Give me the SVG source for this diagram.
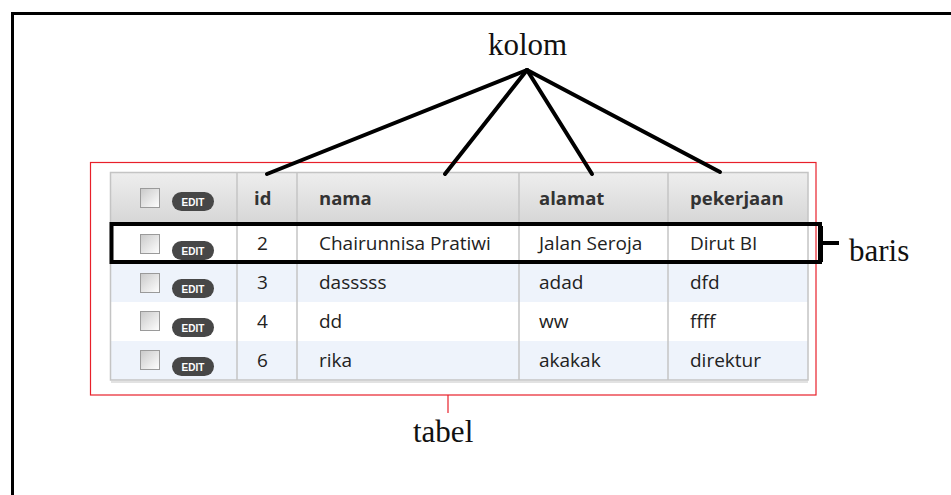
<svg xmlns="http://www.w3.org/2000/svg" width="951" height="495" viewBox="0 0 951 495">
<defs>
<linearGradient id="hdr" x1="0" y1="0" x2="0" y2="1">
<stop offset="0" stop-color="#eeeeee"/>
<stop offset="1" stop-color="#d6d6d6"/>
</linearGradient>
<linearGradient id="chk" x1="0" y1="0" x2="1" y2="1">
<stop offset="0" stop-color="#c9c9c9"/>
<stop offset="1" stop-color="#ffffff"/>
</linearGradient>
<g id="cb"><rect x="0.5" y="0.5" width="19" height="19" fill="url(#chk)" stroke="#9a9a9a"/></g>
<g id="ed"><rect x="0" y="0" width="42" height="19" rx="9.5" fill="#474747"/><text x="21" y="13.5" class="et">EDIT</text></g>
</defs>
<style>
.lab{font-family:"Liberation Serif","Times New Roman",serif;font-size:31px;fill:#111}
.th{font-family:"Open Sans","Noto Sans",sans-serif;font-size:18.5px;font-weight:bold;fill:#333}
.td{font-family:"Open Sans","Noto Sans",sans-serif;font-size:19px;fill:#222}
.et{font-family:"Liberation Sans",Arial,sans-serif;font-size:10px;font-weight:bold;fill:#fff;text-anchor:middle}
.div{stroke:#c4c4c4;stroke-width:1.5}
.conn{stroke:#000;stroke-width:4;fill:none;stroke-linecap:round}
</style>
<rect width="951" height="495" fill="#fff"/>
<path d="M12.5 495 V13.5 H951" fill="none" stroke="#000" stroke-width="3"/>

<g id="tabel-frame">
<rect x="90.5" y="162.5" width="725.5" height="232.5" fill="none" stroke="#e8202a" stroke-width="1.2"/>
<line x1="448" y1="395" x2="448" y2="413" stroke="#e8202a" stroke-width="1.2"/>
</g>

<g id="table">
<rect x="110" y="172" width="698" height="52" fill="url(#hdr)"/>
<rect x="110" y="224" width="698" height="39" fill="#ffffff"/>
<rect x="110" y="263" width="698" height="39" fill="#eef3fb"/>
<rect x="110" y="302" width="698" height="39" fill="#ffffff"/>
<rect x="110" y="341" width="698" height="39" fill="#eef3fb"/>
<line class="div" x1="237" y1="172" x2="237" y2="380"/>
<line class="div" x1="297" y1="172" x2="297" y2="380"/>
<line class="div" x1="519" y1="172" x2="519" y2="380"/>
<line class="div" x1="668" y1="172" x2="668" y2="380"/>
<rect x="110.5" y="172.5" width="697.5" height="207.5" fill="none" stroke="#c4c4c4" stroke-width="1.5"/>
<line x1="111" y1="382" x2="808" y2="382" stroke="#e2e2e2" stroke-width="2"/>

<g id="row-header">
<use href="#cb" x="140" y="188"/><use href="#ed" x="172" y="192"/>
<text class="th" x="254" y="205">id</text>
<text class="th" x="319" y="205">nama</text>
<text class="th" x="539" y="205">alamat</text>
<text class="th" x="690" y="205">pekerjaan</text>
</g>
<g id="row-2">
<use href="#cb" x="140" y="234"/><use href="#ed" x="172" y="241"/>
<text class="td" x="257" y="250">2</text>
<text class="td" x="319" y="250">Chairunnisa Pratiwi</text>
<text class="td" x="539" y="250">Jalan Seroja</text>
<text class="td" x="690" y="250">Dirut BI</text>
</g>
<g id="row-3">
<use href="#cb" x="140" y="273"/><use href="#ed" x="172" y="279"/>
<text class="td" x="257" y="289">3</text>
<text class="td" x="319" y="289">dasssss</text>
<text class="td" x="539" y="289">adad</text>
<text class="td" x="690" y="289">dfd</text>
</g>
<g id="row-4">
<use href="#cb" x="140" y="311"/><use href="#ed" x="172" y="318"/>
<text class="td" x="257" y="328">4</text>
<text class="td" x="319" y="328">dd</text>
<text class="td" x="539" y="328">ww</text>
<text class="td" x="690" y="328">ffff</text>
</g>
<g id="row-6">
<use href="#cb" x="140" y="350"/><use href="#ed" x="172" y="357"/>
<text class="td" x="257" y="367">6</text>
<text class="td" x="319" y="367">rika</text>
<text class="td" x="539" y="367">akakak</text>
<text class="td" x="690" y="367">direktur</text>
</g>
</g>

<g id="baris-box">
<rect x="111.5" y="224" width="708.5" height="38" fill="none" stroke="#000" stroke-width="4"/>
</g>

<g id="connectors">
<line class="conn" x1="527" y1="70" x2="267" y2="174"/>
<line class="conn" x1="527" y1="70" x2="445" y2="174"/>
<line class="conn" x1="527" y1="70" x2="592" y2="174"/>
<line class="conn" x1="527" y1="70" x2="720" y2="172"/>
<path d="M821 226 V262 M821 243 H839" stroke="#000" stroke-width="4" fill="none"/>
</g>

<g id="kolom"><text class="lab" x="488" y="55">kolom</text></g>
<g id="baris"><text class="lab" x="849" y="261">baris</text></g>
<g id="tabel"><text class="lab" x="413" y="442">tabel</text></g>
</svg>
